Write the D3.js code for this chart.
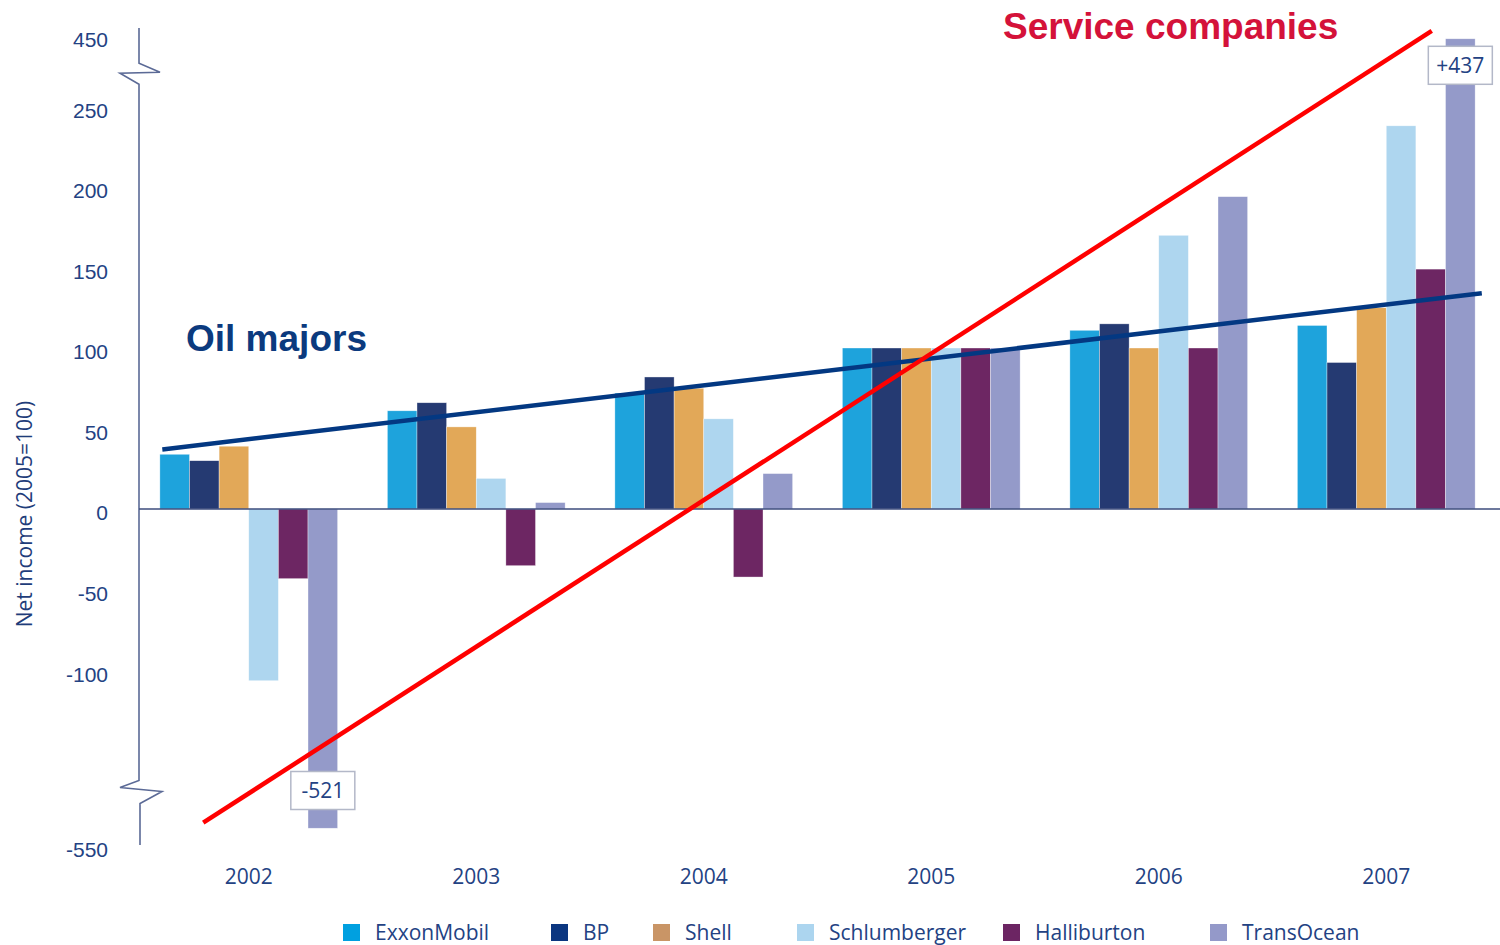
<!DOCTYPE html>
<html lang="en">
<head>
    <meta charset="UTF-8">
    <title>Net income, oil majors vs service companies</title>
    <script src="https://d3js.org/d3.v7.min.js"></script>
    <style>
        body {
            margin: 0;
            padding: 0;
            background: #fff;
            overflow: hidden;
        }
        svg {
            display: block;
            font-family: "Open Sans", "Noto Sans", sans-serif;
        }
        .tick text, .year, .legend text, .callout text {
            fill: #234283;
            font-size: 21px;
        }
        .bar {
            stroke: #fff;
            stroke-width: 0.6;
            stroke-opacity: 0.6;
        }
    </style>
</head>
<body>
    <svg id="chart"></svg>

    <script>
        // Data (net income, 2005 = 100)
        const years = ["2002", "2003", "2004", "2005", "2006", "2007"];
        const companies = ["ExxonMobil", "BP", "Shell", "Schlumberger", "Halliburton", "TransOcean"];
        const exxonMobil   = [34, 61, 72, 100, 111, 114];
        const bp           = [30, 66, 82, 100, 115, 91];
        const shell        = [39, 51, 75, 100, 100, 125];
        const schlumberger = [-106, 19, 56, 100, 170, 238];
        const halliburton  = [-43, -35, -42, 100, 100, 149];
        const transOcean   = [-521, 4, 22, 100, 194, 437];
        const tickValues = [-550, -100, -50, 0, 50, 100, 150, 200, 250, 450];

        // trend lines, as [year, value]
        const majorsTrend  = [[2001.62, 37], [2007.42, 134]];
        const serviceTrend = [[2001.80, -512], [2007.20, 474]];

        const barColors    = ["#1ea3dc", "#253a72", "#e2a858", "#aed6ef", "#6d2663", "#949ac9"];
        const legendColors = ["#00a0e0", "#0b3680", "#c99566", "#acd5ef", "#6c2563", "#9499c9"];

        const series = [exxonMobil, bp, shell, schlumberger, halliburton, transOcean];

        const width = 1500, height = 945;
        const svg = d3.select("#chart").attr("width", width).attr("height", height);

        // x: one band per year, one sub band per company
        const x0 = d3.scaleBand().domain(years).range([135, 1500])
            .paddingInner(0.2186).paddingOuter(0.1093);
        const x1 = d3.scaleBand().domain(companies).range([0, x0.bandwidth()]);
        const xYear = d3.scaleLinear().domain([2002, 2007])
            .range([x0("2002") + x0.bandwidth() / 2, x0("2007") + x0.bandwidth() / 2]);

        // y: broken axis, squeezed above 270 and below -175
        const y = d3.scaleLinear()
            .domain([-550, -470, -175, 0, 270, 450])
            .range([846, 797, 792.5, 509, 74.3, 36]);

        const axisX = 139;
        const topBreak = y(270) - 2, botBreak = y(-175) - 2;

        // y axis line with zig-zag breaks
        const axisPath = d3.path();
        axisPath.moveTo(axisX, 28);
        axisPath.lineTo(axisX, topBreak - 9);
        axisPath.lineTo(axisX + 21, topBreak);
        axisPath.lineTo(axisX - 19, topBreak + 1);
        axisPath.lineTo(axisX, topBreak + 12);
        axisPath.lineTo(axisX, botBreak - 10);
        axisPath.lineTo(axisX - 19, botBreak - 3);
        axisPath.lineTo(axisX + 23, botBreak + 1);
        axisPath.lineTo(axisX + 1, botBreak + 13);
        axisPath.lineTo(axisX + 1, 845);
        svg.append("path")
            .attr("d", axisPath.toString())
            .attr("fill", "none")
            .attr("stroke", "#5b6a96")
            .attr("stroke-width", 1.6);

        // tick labels (plain hyphen for negatives, like the original)
        const yAxis = svg.append("g")
            .attr("transform", `translate(${axisX},0)`)
            .call(d3.axisLeft(y).tickValues(tickValues).tickSize(0).tickPadding(31).tickFormat(d => String(d)));
        yAxis.select(".domain").remove();
        yAxis.selectAll(".tick text").attr("dy", "0.5em");

        svg.append("text")
            .attr("transform", `translate(32,${514}) rotate(-90)`)
            .attr("text-anchor", "middle")
            .attr("fill", "#1f3d7a")
            .attr("font-size", 21)
            .text("Net income (2005=100)");

        // bars
        const groups = svg.selectAll(".group")
            .data(years)
            .enter().append("g")
            .attr("class", "group")
            .attr("transform", d => `translate(${x0(d)},0)`);

        groups.selectAll("rect")
            .data((yr, i) => companies.map((c, j) => ({ company: c, value: series[j][i], color: barColors[j] })))
            .enter().append("rect")
            .attr("class", "bar")
            .attr("x", d => x1(d.company))
            .attr("width", x1.bandwidth())
            .attr("y", d => y(Math.max(0, d.value)))
            .attr("height", d => Math.abs(y(d.value) - y(0)))
            .attr("fill", d => d.color);

        // zero line
        svg.append("line")
            .attr("x1", axisX).attr("x2", 1500)
            .attr("y1", y(0)).attr("y2", y(0))
            .attr("stroke", "#3d4c7c")
            .attr("stroke-width", 1.6);

        // year labels
        svg.selectAll(".year")
            .data(years)
            .enter().append("text")
            .attr("class", "year")
            .attr("x", d => x0(d) + x0.bandwidth() / 2)
            .attr("y", 884)
            .attr("text-anchor", "middle")
            .text(d => d);

        // trend lines
        const line = d3.line().x(d => xYear(d[0])).y(d => y(d[1]));
        svg.append("path")
            .datum(majorsTrend)
            .attr("d", line)
            .attr("fill", "none")
            .attr("stroke", "#033882")
            .attr("stroke-width", 4.5);
        svg.append("path")
            .datum(serviceTrend)
            .attr("d", line)
            .attr("fill", "none")
            .attr("stroke", "#ff0000")
            .attr("stroke-width", 4.5);

        svg.append("text")
            .attr("x", 186).attr("y", 351)
            .attr("font-family", "Liberation Sans, Arial, sans-serif")
            .attr("font-weight", "bold")
            .attr("font-size", 37)
            .attr("fill", "#0b3a7e")
            .text("Oil majors");

        svg.append("text")
            .attr("x", 1003).attr("y", 39)
            .attr("font-family", "Liberation Sans, Arial, sans-serif")
            .attr("font-weight", "bold")
            .attr("font-size", 37)
            .attr("fill", "#d4123a")
            .text("Service companies");

        // value callouts for the off-scale TransOcean bars
        const callouts = [
            { year: "2007", value: transOcean[5], cy: topBreak - 7 },
            { year: "2002", value: transOcean[0], cy: botBreak }
        ];
        const co = svg.selectAll(".callout")
            .data(callouts)
            .enter().append("g")
            .attr("class", "callout")
            .attr("transform", d => `translate(${x0(d.year) + x1("TransOcean") + x1.bandwidth() / 2},${d.cy})`);
        co.append("rect")
            .attr("x", -32).attr("y", -19)
            .attr("width", 64).attr("height", 38)
            .attr("fill", "#fff")
            .attr("stroke", "#b3b8c8")
            .attr("stroke-width", 1.5);
        co.append("text")
            .attr("text-anchor", "middle")
            .attr("dy", "0.36em")
            .text(d => (d.value > 0 ? "+" : "") + d.value);

        // legend - the original places its entries at uneven columns
        const legendX = [343, 551, 653, 797, 1003, 1210];
        const legend = svg.append("g").attr("class", "legend")
            .selectAll("g")
            .data(companies)
            .enter().append("g")
            .attr("transform", (d, i) => `translate(${legendX[i]},0)`);
        legend.append("rect")
            .attr("x", 0).attr("y", 924)
            .attr("width", 17).attr("height", 17)
            .attr("fill", (d, i) => legendColors[i]);
        legend.append("text")
            .attr("x", 32).attr("y", 940)
            .text(d => d);
    </script>
</body>
</html>
